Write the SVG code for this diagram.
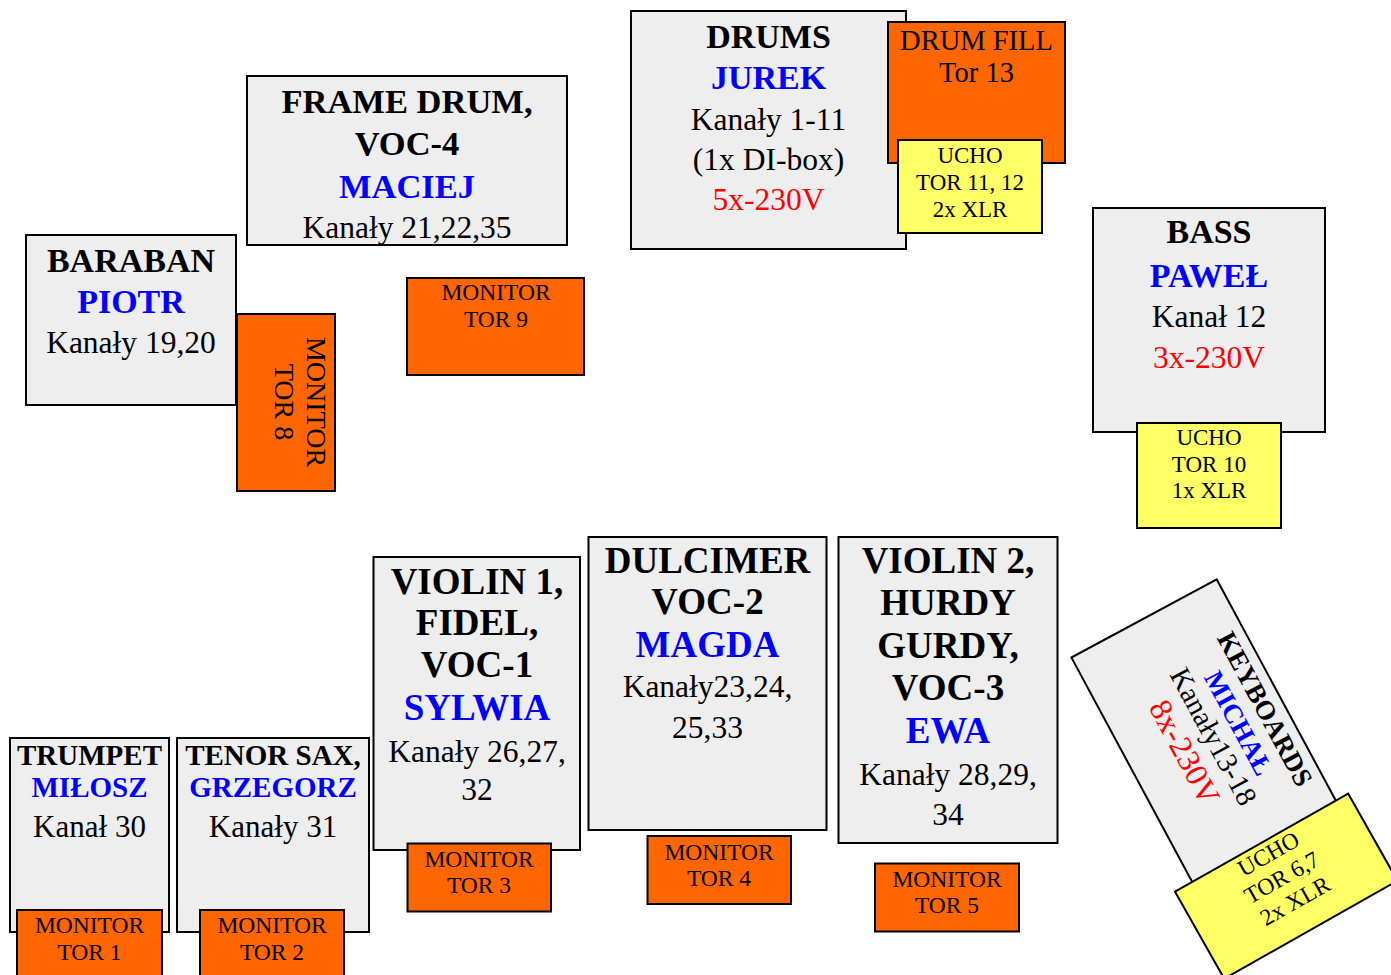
<svg xmlns="http://www.w3.org/2000/svg" width="1391" height="975" viewBox="0 0 1391 975">
<style>
.box{fill:#eeeeee;stroke:#000;stroke-width:2}
.mon{fill:#ff6600;stroke:#000;stroke-width:2}
.ucho{fill:#ffff66;stroke:#000;stroke-width:2}
text{font-family:"Liberation Serif","Times New Roman",serif;text-anchor:middle;fill:#000}
.h{font-weight:bold;font-size:34px}
.h37{font-weight:bold;font-size:37px}
.h29{font-weight:bold;font-size:29px}
.n{font-size:31.5px}
.m{font-size:23.5px}
.u{font-size:23px}
.blue{fill:#0000ff}
.red{fill:#ff0000}
</style>
<rect width="1391" height="975" fill="#fff"/>
<g id="connectors"/>
<g id="drums">
<rect class="box" x="631" y="11" width="275" height="238"/>
<text x="768.5" y="48" class="h">DRUMS</text>
<text x="768.5" y="89" class="h blue">JUREK</text>
<text x="768.5" y="130" class="n">Kanały 1-11</text>
<text x="768.5" y="170" class="n">(1x DI-box)</text>
<text x="768.5" y="210" class="n red">5x-230V</text>
</g>
<g id="drumfill">
<rect class="mon" x="888" y="22" width="177" height="141"/>
<text x="976.5" y="50" style="font-size:28.5px">DRUM FILL</text>
<text x="976.5" y="82" style="font-size:28.5px">Tor 13</text>
</g>
<g id="ucho-drums">
<rect class="ucho" x="898" y="140" width="144" height="93"/>
<text x="970" y="162.5" class="u">UCHO</text>
<text x="970" y="189.5" class="u">TOR 11, 12</text>
<text x="970" y="216.5" class="u">2x XLR</text>
</g>
<g id="framedrum">
<rect class="box" x="247" y="76" width="320" height="169"/>
<text x="407" y="113" class="h" style="font-size:34.5px">FRAME DRUM,</text>
<text x="407" y="155" class="h" style="font-size:34.5px">VOC-4</text>
<text x="407" y="197.5" class="h blue" style="font-size:34.5px">MACIEJ</text>
<text x="407" y="238" class="n">Kanały 21,22,35</text>
</g>
<g id="baraban">
<rect class="box" x="26" y="235" width="210" height="170"/>
<text x="131" y="272" class="h">BARABAN</text>
<text x="131" y="313" class="h blue">PIOTR</text>
<text x="131" y="353" class="n">Kanały 19,20</text>
</g>
<g id="monitor8">
<rect class="mon" x="237" y="314" width="98" height="177"/>
<text transform="translate(307,402) rotate(90)" style="font-size:28px"><tspan x="0" y="0">MONITOR</tspan><tspan x="0" y="32">TOR 8</tspan></text>
</g>
<g id="monitor9">
<rect class="mon" x="407" y="278" width="177" height="97"/>
<text x="496" y="300" class="m">MONITOR</text>
<text x="496" y="327" class="m">TOR 9</text>
</g>
<g id="bass">
<rect class="box" x="1093" y="208" width="232" height="224"/>
<text x="1209" y="243" class="h">BASS</text>
<text x="1209" y="286.5" class="h blue">PAWEŁ</text>
<text x="1209" y="326.5" class="n">Kanał 12</text>
<text x="1209" y="367.5" class="n red">3x-230V</text>
</g>
<g id="ucho-bass">
<rect class="ucho" x="1137" y="423" width="144" height="105"/>
<text x="1209" y="445" class="u">UCHO</text>
<text x="1209" y="471.5" class="u">TOR 10</text>
<text x="1209" y="498" class="u">1x XLR</text>
</g>
<g id="keyboards" transform="translate(1216.7,579.3) rotate(61.7)">
<rect class="box" x="0" y="0" width="274" height="165"/>
<text x="137" y="28" style="font-weight:bold;font-size:27px">KEYBOARDS</text>
<text x="137" y="58" class="blue" style="font-weight:bold;font-size:27px">MICHAŁ</text>
<text x="137" y="87" style="font-size:29px">Kanały13-18</text>
<text x="137" y="121" class="red" style="font-size:32px">8x-230V</text>
</g>
<g id="ucho-keyboards" transform="translate(1175,891.7) rotate(-29.5)">
<rect class="ucho" x="0" y="0" width="199" height="100"/>
<text x="100" y="21" class="m">UCHO</text>
<text x="100" y="48" class="m">TOR 6,7</text>
<text x="100" y="75" class="m">2x XLR</text>
</g>
<g id="trumpet">
<rect class="box" x="10" y="738" width="159" height="194"/>
<text x="89.5" y="765" class="h29">TRUMPET</text>
<text x="89.5" y="797" class="h29 blue">MIŁOSZ</text>
<text x="89.5" y="836.5" class="n" style="font-size:31px">Kanał 30</text>
</g>
<g id="monitor1">
<rect class="mon" x="17" y="910" width="145" height="75"/>
<text x="89.5" y="933" class="m">MONITOR</text>
<text x="89.5" y="960" class="m">TOR 1</text>
</g>
<g id="tenorsax">
<rect class="box" x="177" y="738" width="192" height="194"/>
<text x="273" y="765" class="h29">TENOR SAX,</text>
<text x="273" y="797" class="h29 blue">GRZEGORZ</text>
<text x="273" y="836.5" class="n" style="font-size:31px">Kanały 31</text>
</g>
<g id="monitor2">
<rect class="mon" x="200" y="910" width="144" height="75"/>
<text x="272" y="933" class="m">MONITOR</text>
<text x="272" y="960" class="m">TOR 2</text>
</g>
<g id="violin1">
<rect class="box" x="373.5" y="557" width="206.5" height="293"/>
<text x="477" y="593.5" class="h37">VIOLIN 1,</text>
<text x="477" y="635" class="h37">FIDEL,</text>
<text x="477" y="676.5" class="h37">VOC-1</text>
<text x="477" y="720" class="h37 blue">SYLWIA</text>
<text x="477" y="761.5" class="n">Kanały 26,27,</text>
<text x="477" y="800" class="n">32</text>
</g>
<g id="monitor3">
<rect class="mon" x="407.5" y="843.5" width="143.5" height="68"/>
<text x="479" y="866.5" class="m">MONITOR</text>
<text x="479" y="893" class="m">TOR 3</text>
</g>
<g id="dulcimer">
<rect class="box" x="588.5" y="537" width="238" height="293"/>
<text x="707.5" y="572.5" class="h37">DULCIMER</text>
<text x="707.5" y="613.5" class="h37">VOC-2</text>
<text x="707.5" y="657" class="h37 blue">MAGDA</text>
<text x="707.5" y="696.5" class="n">Kanały23,24,</text>
<text x="707.5" y="738" class="n">25,33</text>
</g>
<g id="monitor4">
<rect class="mon" x="647.5" y="836" width="143.5" height="68"/>
<text x="719" y="860" class="m">MONITOR</text>
<text x="719" y="886" class="m">TOR 4</text>
</g>
<g id="violin2">
<rect class="box" x="838.5" y="537" width="219" height="306"/>
<text x="948" y="573" class="h37">VIOLIN 2,</text>
<text x="948" y="615" class="h37">HURDY</text>
<text x="948" y="657.5" class="h37">GURDY,</text>
<text x="948" y="700" class="h37">VOC-3</text>
<text x="948" y="742.5" class="h37 blue">EWA</text>
<text x="948" y="785" class="n">Kanały 28,29,</text>
<text x="948" y="825" class="n">34</text>
</g>
<g id="monitor5">
<rect class="mon" x="875" y="863.5" width="144" height="68"/>
<text x="947" y="887" class="m">MONITOR</text>
<text x="947" y="913" class="m">TOR 5</text>
</g>
</svg>
